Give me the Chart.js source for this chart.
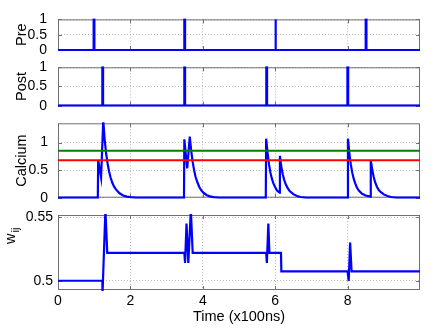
<!DOCTYPE html>
<html>
<head>
<meta charset="utf-8">
<script src="https://cdn.jsdelivr.net/npm/chart.js@4.4.1/dist/chart.umd.min.js"></script>
<style>
  html, body { margin: 0; padding: 0; background: #fff; }
  #wrap { position: relative; width: 440px; height: 331px; overflow: hidden; }
  #wrap canvas { position: absolute; left: 0; top: 0; }
</style>
</head>
<body>
<div id="wrap">
  <canvas id="preChart" width="440" height="331"></canvas>
  <canvas id="postChart" width="440" height="331"></canvas>
  <canvas id="caChart" width="440" height="331"></canvas>
  <canvas id="wChart" width="440" height="331"></canvas>
</div>
<script>
// Axis ticks
const xTicks = [0, 2, 4, 6, 8];
const unitTicks = [0, 0.5, 1];
const wTicks = [0.5, 0.55];

// Presynaptic spikes (time in x100ns)
const preT = [0, 0.985, 0.985, 1.005, 1.005, 3.49, 3.49, 3.51, 3.51, 6.0, 6.0, 6.02, 6.02, 8.5, 8.5, 8.52, 8.52, 10];
const preV = [0, 0, 1, 1, 0, 0, 1, 1, 0, 0, 1, 1, 0, 0, 1, 1, 0, 0];

// Postsynaptic spikes
const postT = [0, 1.225, 1.225, 1.245, 1.245, 3.49, 3.49, 3.51, 3.51, 5.755, 5.755, 5.775, 5.775, 7.995, 7.995, 8.015, 8.015, 10];
const postV = [0, 0, 1, 1, 0, 0, 1, 1, 0, 0, 1, 1, 0, 0, 1, 1, 0, 0];

// Calcium trace
const caT = [0, 1.10, 1.11, 1.19, 1.25, 1.29, 1.33, 1.37, 1.41, 1.45, 1.50, 1.55, 1.60, 1.70, 1.80, 1.90, 2.00, 2.15,
  3.48, 3.49, 3.57, 3.64, 3.68, 3.72, 3.76, 3.80, 3.85, 3.90, 3.95, 4.00, 4.10, 4.20, 4.30, 4.45,
  5.74, 5.75, 5.79, 5.83, 5.87, 5.91, 5.95, 6.00, 6.05, 6.12, 6.13, 6.17, 6.21, 6.25, 6.30, 6.35, 6.40, 6.50, 6.60, 6.70, 6.85,
  8.00, 8.01, 8.05, 8.09, 8.13, 8.17, 8.21, 8.26, 8.31, 8.40, 8.50, 8.63, 8.64, 8.68, 8.72, 8.76, 8.81, 8.86, 8.92, 9.00, 9.10, 9.20, 9.35, 10];
const caV = [0, 0, 0.68, 0.37, 1.40, 1.05, 0.80, 0.62, 0.48, 0.37, 0.27, 0.20, 0.15, 0.08, 0.04, 0.02, 0.01, 0,
  0, 1.06, 0.53, 1.11, 0.85, 0.65, 0.50, 0.38, 0.28, 0.20, 0.14, 0.10, 0.05, 0.025, 0.01, 0,
  0, 1.07, 0.81, 0.60, 0.45, 0.34, 0.26, 0.19, 0.13, 0.09, 0.76, 0.56, 0.42, 0.32, 0.23, 0.17, 0.12, 0.065, 0.03, 0.012, 0,
  0, 1.07, 0.80, 0.60, 0.45, 0.34, 0.26, 0.18, 0.13, 0.07, 0.04, 0.02, 0.68, 0.51, 0.38, 0.28, 0.20, 0.14, 0.10, 0.06, 0.03, 0.012, 0, 0];

// Plasticity thresholds
const thetaP = 0.85;
const thetaD = 0.68;

// Synaptic weight
const wT = [0, 1.225, 1.23, 1.31, 1.36, 3.49, 3.51, 3.55, 3.60, 3.67, 3.72, 5.75, 5.77, 5.81, 5.84, 6.16, 6.17, 8.00, 8.03, 8.07, 8.11, 10];
const wV = [0.5, 0.5, 0.49, 0.556, 0.522, 0.522, 0.514, 0.545, 0.514, 0.556, 0.522, 0.522, 0.514, 0.545, 0.522, 0.522, 0.5074, 0.5074, 0.4998, 0.530, 0.5074, 0.5074];

const FONT = '"Liberation Sans", Arial, Helvetica, sans-serif';
Chart.defaults.font.family = FONT;
Chart.defaults.color = '#000';

function pts(t, v) {
    return t.map((x, i) => ({ x: x, y: v[i] }));
}

// Box round the plot area, plus inward tick marks (MATLAB style)
const axesBox = {
    id: 'axesBox',
    beforeDatasetsDraw(chart) {
        const { ctx, chartArea: a, scales } = chart;
        ctx.save();
        ctx.strokeStyle = '#707070';
        ctx.lineWidth = 1;
        ctx.strokeRect(a.left + 0.5, a.top + 0.5, a.right - a.left - 1, a.bottom - a.top - 1);
        ctx.beginPath();
        scales.x.ticks.forEach(t => {
            const p = Math.round(scales.x.getPixelForValue(t.value)) + 0.5;
            ctx.moveTo(p, a.bottom); ctx.lineTo(p, a.bottom - 4);
            ctx.moveTo(p, a.top); ctx.lineTo(p, a.top + 4);
        });
        scales.y.ticks.forEach(t => {
            const p = Math.round(scales.y.getPixelForValue(t.value)) + 0.5;
            ctx.moveTo(a.left, p); ctx.lineTo(a.left + 4, p);
            ctx.moveTo(a.right, p); ctx.lineTo(a.right - 4, p);
        });
        ctx.stroke();
        ctx.restore();
    }
};

// w_ij label with subscript
const wLabel = {
    id: 'wLabel',
    afterDraw(chart) {
        const ctx = chart.ctx;
        ctx.save();
        ctx.translate(15, 244);
        ctx.rotate(-Math.PI / 2);
        ctx.fillStyle = '#000';
        ctx.textBaseline = 'alphabetic';
        ctx.font = '14.5px ' + FONT;
        ctx.fillText('w', 0, 0);
        const w = ctx.measureText('w').width;
        ctx.font = '11px ' + FONT;
        ctx.fillText('ij', w + 1, 4);
        ctx.restore();
    }
};

function makeChart(id, cfg) {
    const xAxis = {
        type: 'linear',
        min: 0,
        max: 10,
        afterBuildTicks: s => { s.ticks = xTicks.map(v => ({ value: v })); },
        afterFit: s => { s.height = cfg.xLabels ? 41 : 0; },
        grid: { color: '#b8b8b8', lineWidth: 1, drawTicks: false },
        border: { display: false, dash: [1, 2] },
        ticks: { display: !!cfg.xLabels, autoSkip: false, maxRotation: 0, padding: 3, font: { size: 14 }, callback: v => String(v) },
        title: cfg.xLabels
            ? { display: true, text: 'Time (x100ns)', font: { size: 14.5 }, padding: { top: 0, bottom: 5 } }
            : { display: false }
    };
    const yAxis = {
        type: 'linear',
        min: cfg.yMin,
        max: cfg.yMax,
        afterBuildTicks: s => { s.ticks = cfg.yTicks.map(v => ({ value: v })); },
        afterFit: s => { s.width = 58; },
        grid: { color: '#b8b8b8', lineWidth: 1, drawTicks: false },
        border: { display: false, dash: [1, 2] },
        ticks: { autoSkip: false, padding: cfg.tickPad, font: { size: 14 }, callback: v => String(v) },
        title: cfg.yTitle
            ? { display: true, text: cfg.yTitle, font: { size: 14.5 }, padding: { top: 13, bottom: 0 } }
            : { display: false }
    };
    return new Chart(document.getElementById(id), {
        type: 'line',
        data: { datasets: cfg.datasets },
        options: {
            responsive: false,
            devicePixelRatio: 1,
            animation: false,
            layout: { padding: { left: 0, right: 20, top: cfg.top, bottom: cfg.bottom } },
            plugins: { legend: { display: false }, tooltip: { enabled: false } },
            elements: { point: { radius: 0 }, line: { tension: 0, borderJoinStyle: 'miter' } },
            scales: { x: xAxis, y: yAxis }
        },
        plugins: cfg.plugins || [axesBox]
    });
}

function blueLine(t, v) {
    return { data: pts(t, v), borderColor: '#0000ff', borderWidth: 2.2, clip: 1 };
}

// Pre
const preChart = makeChart('preChart', {
    top: 11.3, bottom: 281, yMin: 0, yMax: 1, yTicks: unitTicks, tickPad: 11, yTitle: 'Pre',
    datasets: [blueLine(preT, preV)]
});

// Post
const postChart = makeChart('postChart', {
    top: 67.3, bottom: 225.3, yMin: 0, yMax: 1, yTicks: unitTicks, tickPad: 11, yTitle: 'Post',
    datasets: [blueLine(postT, postV)]
});

// Calcium with thresholds
const caChart = makeChart('caChart', {
    top: 123.3, bottom: 133.3, yMin: 0, yMax: 1.35, yTicks: unitTicks, tickPad: 10, yTitle: 'Calcium',
    datasets: [
        { data: pts([0, 10], [thetaD, thetaD]), borderColor: '#ff0000', borderWidth: 2, clip: 0 },
        { data: pts([0, 10], [thetaP, thetaP]), borderColor: '#007f00', borderWidth: 2, clip: 0 },
        blueLine(caT, caV)
    ]
});

// Synaptic weight
const wChart = makeChart('wChart', {
    top: 215, bottom: 0, yMin: 0.4927, yMax: 0.5518, yTicks: wTicks, tickPad: 5, yTitle: null, xLabels: true,
    datasets: [blueLine(wT, wV)],
    plugins: [axesBox, wLabel]
});
</script>
</body>
</html>
